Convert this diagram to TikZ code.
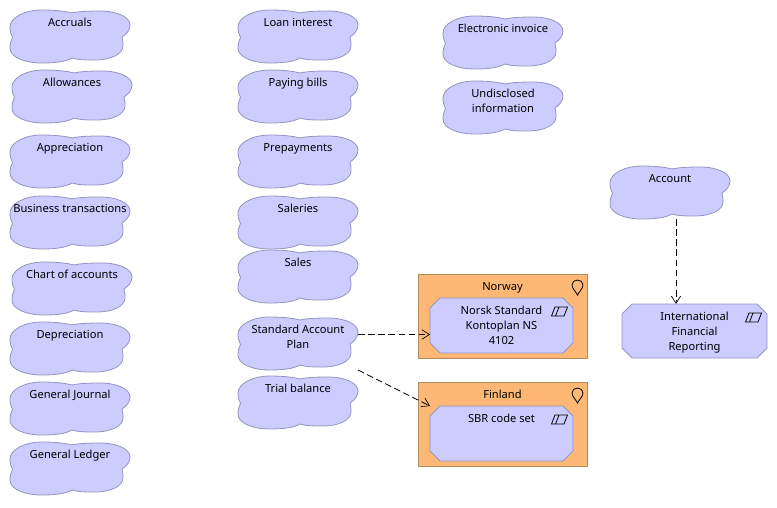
\documentclass[tikz,border=0pt]{standalone}
\usepackage{fontspec}
\setmainfont{Noto Sans}
\usetikzlibrary{arrows.meta}
\definecolor{lilacfill}{HTML}{CCCCFF}
\definecolor{lilacline}{HTML}{9494C0}
\definecolor{locfill}{HTML}{FDB875}
\definecolor{locline}{HTML}{B08A58}
\tikzset{
  x=0.75pt, y=-0.75pt,
  cloudline/.style={fill=lilacfill, draw=lilacline, line width=0.6pt},
  panelline/.style={fill=lilacfill, draw=lilacline, line width=0.7pt},
  framestyle/.style={fill=locfill, draw=locline, line width=0.7pt},
  glyph/.style={draw=black, line width=0.6pt},
  holder/.style={inner sep=0pt, outer sep=0pt, anchor=north west, font=\fontsize{8.35}{11.6}\selectfont},
  dependency/.style={draw=black, line width=0.6pt, dash pattern=on 5pt off 2.6pt,
    -{Straight Barb[length=5.5pt,width=7pt,line width=0.5pt]}},
}
% #1 name, #2 left, #3 top, #4 width (px), #5 height (px), #6 text
\newcommand\labelbox[6]{%
  \node[holder] (#1) at (#2,#3) {\parbox[c][#5\dimexpr0.75pt\relax][t]{#4\dimexpr0.75pt\relax}{\centering\rule{0pt}{12pt}#6}};}
% Cloud outline with its text
\newcommand\cloudbox[4]{%
  \begin{scope}[shift={(#2,#3)}]
    \draw[cloudline] (2.5,27.5)
      .. controls (0.8,24.5) and (0,21) .. (0,17)
      .. controls (0,8) and (14,0) .. (32,0)
      .. controls (44,0) and (55,1) .. (62,3)
      .. controls (68,1.5) and (78,1) .. (90,1)
      .. controls (107,1) and (120,7) .. (120,15)
      .. controls (120,20) and (116.5,24) .. (112,27)
      .. controls (113,30) and (113,33) .. (113,36)
      .. controls (113,44) and (101,50) .. (85,50)
      .. controls (76,50) and (68,50) .. (62,48)
      .. controls (55,52) and (44,53) .. (32,53)
      .. controls (14,53) and (0,47) .. (0,38)
      .. controls (0,34) and (0.8,30.5) .. (2.5,27.5) -- cycle;
  \end{scope}
  \labelbox{#1}{#2}{#3}{120}{53}{#4}}
% Chamfered panel with parallelogram glyph: name, left, top, width, height, text
\newcommand\panelbox[6]{%
  \begin{scope}[shift={(#2,#3)}]
    \draw[panelline] (10,0) -- (#4-10,0) -- (#4,10) -- (#4,#5-10) -- (#4-10,#5)
      -- (10,#5) -- (0,#5-10) -- (0,10) -- cycle;
    \draw[glyph] (#4-18,9) -- (#4-5.5,9) -- (#4-9,18) -- (#4-21.5,18) -- cycle
      (#4-14,9) -- (#4-17.5,18);
  \end{scope}
  \labelbox{#1}{#2}{#3}{#4}{#5}{#6}}
% Location frame with pin glyph: name, left, top, text
\newcommand\locationbox[4]{%
  \draw[framestyle] (#2,#3) rectangle ++(169,84);
  \begin{scope}[shift={(#2,#3)}]
    \draw[glyph] (159.5,21)
      .. controls (157.5,17) and (154,14.5) .. (154,11)
      .. controls (154,8) and (156.5,6) .. (159.5,6)
      .. controls (162.5,6) and (165,8) .. (165,11)
      .. controls (165,14.5) and (161.5,17) .. (159.5,21) -- cycle;
  \end{scope}
  \labelbox{#1}{#2}{#3}{169}{84}{#4}}
\begin{document}
\begin{tikzpicture}
\useasboundingbox (0,0) rectangle (777,507);

% first column
\cloudbox{accruals}{10}{10}{Accruals}
\cloudbox{allowances}{12}{70}{Allowances}
\cloudbox{appreciation}{10}{135}{Appreciation}
\cloudbox{business}{10}{196}{Business transactions}
\cloudbox{chart}{12}{262}{Chart of accounts}
\cloudbox{depreciation}{10}{322}{Depreciation}
\cloudbox{journal}{10}{382}{General Journal}
\cloudbox{ledger}{10}{442}{General Ledger}

% second column
\cloudbox{loan}{238}{10}{Loan interest}
\cloudbox{paying}{238}{70}{Paying bills}
\cloudbox{prepayments}{238}{135}{Prepayments}
\cloudbox{saleries}{238}{196}{Saleries}
\cloudbox{sales}{238}{250}{Sales}
\cloudbox{plan}{238}{317}{Standard Account\\Plan}
\cloudbox{trial}{238}{376}{Trial balance}

% third column
\cloudbox{invoice}{443}{16}{Electronic invoice}
\cloudbox{undisclosed}{443}{81}{Undisclosed\\information}

% right-hand group
\cloudbox{account}{610}{166}{Account}
\panelbox{ifrs}{622}{304}{145}{54}{International\\Financial\\Reporting}

% locations and their contents
\locationbox{norway}{418}{274}{Norway}
\panelbox{norsk}{430}{298}{143}{55}{Norsk Standard\\Kontoplan NS\\4102}
\locationbox{finland}{418}{382}{Finland}
\panelbox{sbr}{430}{406}{143}{55}{SBR code set}

% dependencies
\draw[dependency] ([yshift=6.75pt]plan.east) -- ([yshift=6.75pt]plan.east -| norsk.west);
\draw[dependency] (plan.south east) -- (sbr.north west);
\draw[dependency] ([xshift=4.5pt]account.south) -- ([xshift=4.5pt]account.south |- ifrs.north);
\end{tikzpicture}
\end{document}
